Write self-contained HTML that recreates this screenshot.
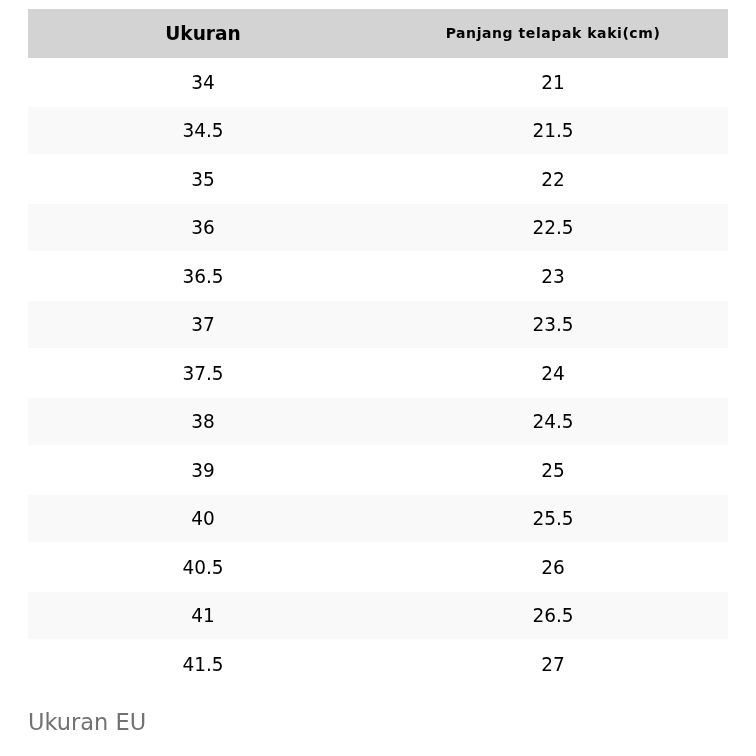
<!DOCTYPE html>
<html><head><meta charset="utf-8"><title>Ukuran</title>
<style>
html,body{margin:0;padding:0;background:#fff;}
body{width:756px;height:756px;position:relative;overflow:hidden;font-family:"DejaVu Sans","Liberation Sans",sans-serif;color:#000;}
.r{position:absolute;left:28px;width:700px;}
.c{position:absolute;width:350px;height:48.5px;line-height:48.5px;text-align:center;font-size:18.5px;white-space:nowrap;}
.c1{left:0}.c2{left:350px}
.c span{display:inline-block;transform:translateY(0.9px) scaleY(1.08);}
.h{background:#d3d3d3;font-weight:bold;}
.h .c1{font-size:18.6px}
.h .c2{font-size:14px;letter-spacing:0.57px}
.g{background:#f9f9f9;}
.cap{position:absolute;left:28px;top:706px;font-size:22.5px;line-height:32px;color:#727272;white-space:nowrap;}
</style></head><body>
<div class="r h" style="top:9.3px;height:48.5px"><div class="c c1" style="top:1px">Ukuran</div><div class="c c2" style="top:0">Panjang telapak kaki(cm)</div></div>
<div class="r" style="top:57.8px;height:48.5px"><div class="c c1" style="top:0px"><span>34</span></div><div class="c c2" style="top:0px"><span>21</span></div></div>
<div class="r g" style="top:107px;height:47px"><div class="c c1" style="top:-0.7px"><span>34.5</span></div><div class="c c2" style="top:-0.7px"><span>21.5</span></div></div>
<div class="r" style="top:154.8px;height:48.5px"><div class="c c1" style="top:0px"><span>35</span></div><div class="c c2" style="top:0px"><span>22</span></div></div>
<div class="r g" style="top:204px;height:47px"><div class="c c1" style="top:-0.7px"><span>36</span></div><div class="c c2" style="top:-0.7px"><span>22.5</span></div></div>
<div class="r" style="top:251.8px;height:48.5px"><div class="c c1" style="top:0px"><span>36.5</span></div><div class="c c2" style="top:0px"><span>23</span></div></div>
<div class="r g" style="top:301px;height:47px"><div class="c c1" style="top:-0.7px"><span>37</span></div><div class="c c2" style="top:-0.7px"><span>23.5</span></div></div>
<div class="r" style="top:348.8px;height:48.5px"><div class="c c1" style="top:0px"><span>37.5</span></div><div class="c c2" style="top:0px"><span>24</span></div></div>
<div class="r g" style="top:398px;height:47px"><div class="c c1" style="top:-0.7px"><span>38</span></div><div class="c c2" style="top:-0.7px"><span>24.5</span></div></div>
<div class="r" style="top:445.8px;height:48.5px"><div class="c c1" style="top:0px"><span>39</span></div><div class="c c2" style="top:0px"><span>25</span></div></div>
<div class="r g" style="top:495px;height:47px"><div class="c c1" style="top:-0.7px"><span>40</span></div><div class="c c2" style="top:-0.7px"><span>25.5</span></div></div>
<div class="r" style="top:542.8px;height:48.5px"><div class="c c1" style="top:0px"><span>40.5</span></div><div class="c c2" style="top:0px"><span>26</span></div></div>
<div class="r g" style="top:592px;height:47px"><div class="c c1" style="top:-0.7px"><span>41</span></div><div class="c c2" style="top:-0.7px"><span>26.5</span></div></div>
<div class="r" style="top:639.8px;height:48.5px"><div class="c c1" style="top:0px"><span>41.5</span></div><div class="c c2" style="top:0px"><span>27</span></div></div>
<div class="cap">Ukuran EU</div>
</body></html>
